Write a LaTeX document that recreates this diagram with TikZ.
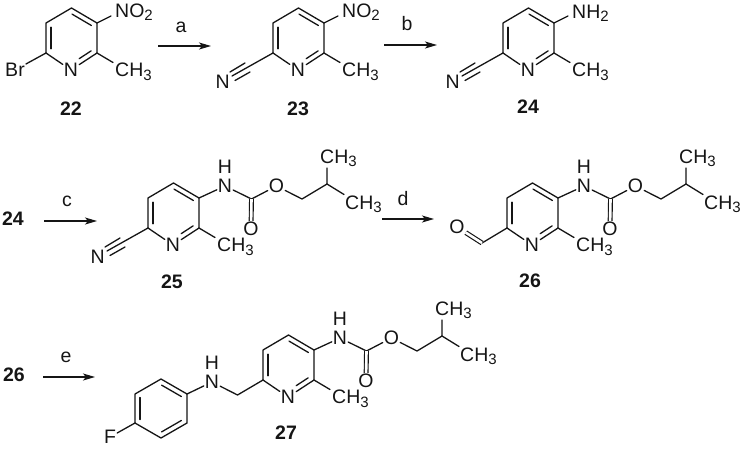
\documentclass[tikz,border=0pt]{standalone}
\usepackage{fontspec}
\setmainfont{Liberation Sans}
\usetikzlibrary{calc,arrows.meta}
\newcommand\subs[1]{\raisebox{-3.5pt}{\fontsize{15}{15}\selectfont #1}}
\definecolor{ink}{HTML}{151515}
\tikzset{
  x=1pt,y=-1pt,
  bond/.style={draw=ink,line width=1.3pt,line cap=round,line join=round},
  dbl/.style={draw=ink,line width=1.15pt,double=white,double distance=2.6pt},
  atom/.style={inner sep=1pt,text=ink,font=\fontsize{19.5}{20}\selectfont},
  lab/.style={inner sep=0pt,text=ink,font=\fontsize{19.5}{20}\selectfont,anchor=base west},
  num/.style={inner sep=0pt,text=ink,font=\fontsize{19.5}{20}\selectfont\bfseries},
  cond/.style={inner sep=0pt,text=ink,font=\fontsize{19.5}{20}\selectfont},
  rxn/.style={draw=ink,line width=1.15pt,-{Stealth[length=12pt,width=7pt,inset=3pt]}}
}
% inner line of a ring double bond
\newcommand\innerl[4]{\draw[bond] ($(#1)!#3!(#2)!5pt!90:(#2)$) -- ($(#2)!#4!(#1)!5pt!-90:(#1)$);}
% pyridine ring, prefix #1, shift #2
\newcommand\pyr[2]{%
  \begin{scope}[shift={#2}]
    \coordinate (#1c6) at (46,53);
    \node[atom] (#1n) at (71,70) {N};
    \coordinate (#1c2) at (97,53);
    \coordinate (#1c3) at (97,23);
    \coordinate (#1c4) at (71.5,8);
    \coordinate (#1c5) at (46,23);
    \draw[bond] (#1c6) -- (#1n);
    \draw[bond] (#1n) -- (#1c2) -- (#1c3) -- (#1c4) -- (#1c5) -- (#1c6);
    \innerl{#1n}{#1c2}{.42}{.12}
    \innerl{#1c3}{#1c4}{.12}{.12}
    \innerl{#1c5}{#1c6}{.14}{.14}
    \node[lab] (#1me) at (115,76.5) {CH\subs{3}};
    \coordinate (#1meb) at (113,62.5);
    \draw[bond] (#1c2) -- (#1meb);
  \end{scope}}
% nitrile on c6
\newcommand\nitrile[2]{%
  \begin{scope}[shift={#2}]
    \node[atom] (#1nn) at (-4.3,82) {N};
    \coordinate (#1ne) at (5,76);
    \coordinate (#1u1) at (18,63);
    \coordinate (#1u2) at (3,72);
    \coordinate (#1l1) at (23,72);
    \coordinate (#1l2) at (8,80.5);
    \draw[bond] (#1c6) -- (#1ne);
    \draw[bond] (#1u1) -- (#1u2);
    \draw[bond] (#1l1) -- (#1l2);
  \end{scope}}
% isobutyl carbamate on c3
\newcommand\carb[2]{%
  \begin{scope}[shift={#2}]
    \node[atom] (#1nh) at (123,11) {N};
    \node[atom] (#1h) at (123,-8) {H};
    \coordinate (#1cc) at (149.5,24);
    \node[atom] (#1od) at (149,54) {O};
    \node[atom] (#1oe) at (174.5,11) {O};
    \coordinate (#1ch2) at (200,24);
    \coordinate (#1ch) at (225,9);
    \node[lab] (#1m1) at (218,-11.7) {CH\subs{3}};
    \coordinate (#1m1b) at (225,-7);
    \node[lab] (#1m2) at (243,34) {CH\subs{3}};
    \coordinate (#1m2b) at (242,19.5);
    \draw[bond] (#1c3) -- (#1nh);
    \draw[bond] (#1nh) -- (#1cc) -- (#1oe) -- (#1ch2) -- (#1ch) -- (#1m1b);
    \draw[bond] (#1ch) -- (#1m2b);
    \draw[dbl] (#1cc) -- (#1od);
  \end{scope}}
\begin{document}
\begin{tikzpicture}
\useasboundingbox (0,0) rectangle (741,448);
\fill[white] (0,0) rectangle (741,448);
% 22
\pyr{a}{(0,0)}
\node[atom] (abr) at (15,70) {Br};
\draw[bond] (ac6) -- (abr);
\node[lab] (ano) at (115,17.3) {NO\subs{2}};
\coordinate (anob) at (111,16);
\draw[bond] (ac3) -- (anob);
\node[num] (n22) at (71,109) {22};
% 23
\pyr{b}{(227,0)}
\nitrile{b}{(227,0)}
\node[lab] (bno) at (342,17.3) {NO\subs{2}};
\coordinate (bnob) at (338,16);
\draw[bond] (bc3) -- (bnob);
\node[num] (n23) at (298,109) {23};
% 24
\pyr{c}{(457,0)}
\nitrile{c}{(457,0)}
\node[lab] (cnh) at (572,18) {NH\subs{2}};
\coordinate (cnhb) at (568,16);
\draw[bond] (cc3) -- (cnhb);
\node[num] (n24) at (528,107) {24};
% 25
\pyr{d}{(102,175)}
\nitrile{d}{(102,175)}
\carb{d}{(102,175)}
\node[num] (n25) at (172,282) {25};
% 26
\pyr{e}{(461,175)}
\carb{e}{(461,175)}
\begin{scope}[shift={(461,175)}]
  \coordinate (ecoh) at (21,68);
  \node[atom] (eo) at (-4,52) {O};
  \draw[bond] (ec6) -- (ecoh);
  \draw[dbl] (ecoh) -- (eo);
\end{scope}
\node[num] (n26) at (530,281) {26};
% 27
\pyr{f}{(217,327)}
\carb{f}{(217,327)}
\node[atom] (fan) at (212,382) {N};
\node[atom] (fah) at (212,363) {H};
\coordinate (fch2) at (237.5,395);
\draw[bond] (fc6) -- (fch2) -- (fan);
\coordinate (p1) at (187,394);
\coordinate (p2) at (161,379);
\coordinate (p3) at (135,394);
\coordinate (p4) at (135,423);
\coordinate (p5) at (161,438);
\coordinate (p6) at (187,423);
\draw[bond] (p1) -- (p2) -- (p3) -- (p4) -- (p5) -- (p6) -- cycle;
\innerl{p1}{p2}{.12}{.12}
\innerl{p3}{p4}{.12}{.12}
\innerl{p5}{p6}{.12}{.12}
\draw[bond] (p1) -- (fan);
\node[atom] (ff) at (110,437) {F};
\draw[bond] (p4) -- (ff);
\node[num] (n27) at (286,433) {27};
% left-hand compound numbers
\node[num] (l24) at (13,219) {24};
\node[num] (l26) at (14,375) {26};
% arrows
\coordinate (ra1) at (158,46); \coordinate (ra2) at (211,46);
\draw[rxn] (ra1) -- (ra2);
\node[cond] (ta) at (181,27) {a};
\coordinate (rb1) at (384,45); \coordinate (rb2) at (437,45);
\draw[rxn] (rb1) -- (rb2);
\node[cond] (tb) at (407,24) {b};
\coordinate (rc1) at (44,221); \coordinate (rc2) at (97,221);
\draw[rxn] (rc1) -- (rc2);
\node[cond] (tc) at (67,201) {c};
\coordinate (rd1) at (382,219); \coordinate (rd2) at (434,219);
\draw[rxn] (rd1) -- (rd2);
\node[cond] (td) at (403,199) {d};
\coordinate (re1) at (43,377); \coordinate (re2) at (95,377);
\draw[rxn] (re1) -- (re2);
\node[cond] (te) at (66,357) {e};
\end{tikzpicture}
\end{document}
